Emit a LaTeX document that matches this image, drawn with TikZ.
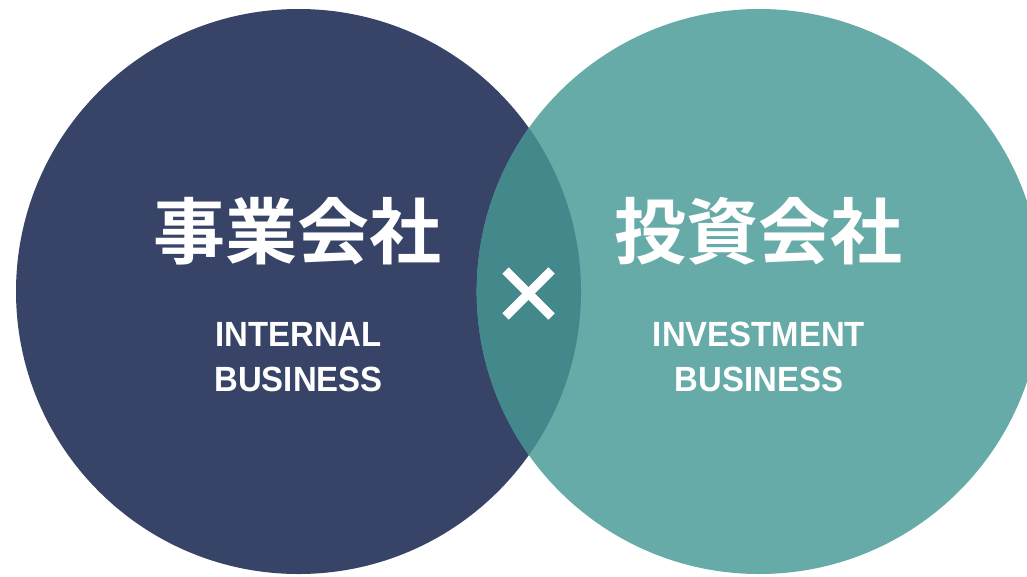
\documentclass[tikz,border=0pt]{standalone}
\usepackage{fontspec}
\newfontfamily\jpb{Noto Sans CJK JP Bold}
\newfontfamily\lab{Liberation Sans}[FakeStretch=0.94]
\definecolor{navy}{HTML}{374468}
\definecolor{teal}{HTML}{66ABA8}
\definecolor{overlap}{HTML}{43888A}
\tikzset{
  circ/.style={circle, minimum size=565pt, inner sep=0pt},
  title/.style={text=white, inner sep=0pt, font=\jpb\fontsize{72}{80}\selectfont},
  sub/.style={text=white, inner sep=0pt, align=center, font=\lab\bfseries\fontsize{35}{45}\selectfont},
  cross/.style={draw=white, line width=9pt}
}
\begin{document}
\begin{tikzpicture}[x=1pt, y=-1pt]
\useasboundingbox (0,0) rectangle (1027,576);
\clip (0,0) rectangle (1027,576);
\fill[white] (0,0) rectangle (1027,576);
\node[circ, fill=navy] (L) at (298.5,291.5) {};
\node[circ, fill=teal] (R) at (759.2,291.5) {};
\begin{scope}
  \clip (298.5,291.5) circle[radius=282.5];
  \fill[overlap] (759.2,291.5) circle[radius=282.5];
\end{scope}
\node[title] (tL) at (297.5,231) {事業会社};
\node[title] (tR) at (758,231) {投資会社};
\node[sub] (sL) at (298.5,357) {INTERNAL\\BUSINESS};
\node[sub] (sR) at (759,357) {INVESTMENT\\BUSINESS};
\coordinate (x) at (528.5,293.5);
\draw[cross] ([shift={(-23,-23)}]x) -- ([shift={(23,23)}]x);
\draw[cross] ([shift={(-23,23)}]x) -- ([shift={(23,-23)}]x);
\end{tikzpicture}
\end{document}
